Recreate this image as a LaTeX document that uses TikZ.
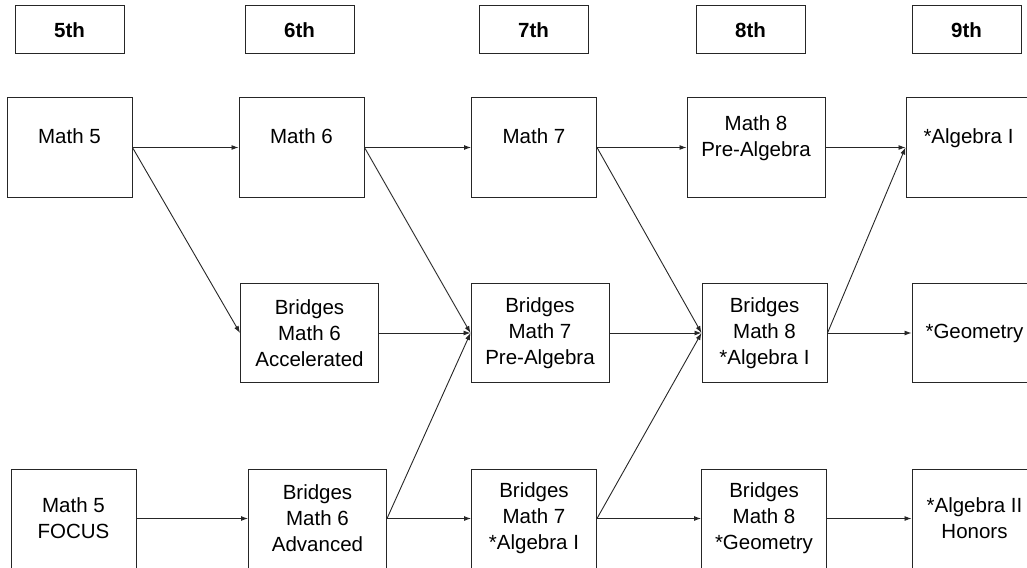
\documentclass[tikz,border=0pt]{standalone}
\usepackage{fontspec}
\setmainfont{Liberation Sans}
\usetikzlibrary{arrows.meta}

% text of the top row sits a little above the middle of its box
\newcommand{\uptext}[1]{\raisebox{9pt}[\height][\depth]{\begin{tabular}{@{}c@{}}#1\end{tabular}}}

\begin{document}
\begin{tikzpicture}[
  x=1pt, y=-1pt,
  >=Latex,
  block/.style={rectangle, draw=black!85, line width=1pt, align=center, minimum width=125pt, minimum height=99pt, inner sep=0pt, font=\fontsize{20.5}{26}\selectfont},
  wide/.style={minimum width=138pt},
  grade/.style={block, minimum width=109pt, minimum height=48pt, font=\fontsize{20.5}{26}\selectfont\bfseries},
  line/.style={draw=black!85, line width=0.9pt, -{Latex[length=7pt,width=5pt]}}
]
\useasboundingbox (0,0) rectangle (1027,567);

% grades
\node[grade] (g5) at (69.5,30) {5th};
\node[grade] (g6) at (299.5,30) {6th};
\node[grade] (g7) at (533.5,30) {7th};
\node[grade] (g8) at (750.5,30) {8th};
\node[grade] (g9) at (966.5,30) {9th};

% regular track
\node[block] (math5) at (69.5,147.5) {\uptext{Math 5}};
\node[block] (math6) at (301.5,147.5) {\uptext{Math 6}};
\node[block] (math7) at (534,147.5) {\uptext{Math 7}};
\node[block, wide] (math8) at (756,147.5) {\uptext{Math 8\\Pre-Algebra}};
\node[block] (alg1) at (968.5,147.5) {\uptext{*Algebra I}};

% accelerated track
\node[block, wide] (bm6acc) at (309.5,333) {Bridges\\Math 6\\Accelerated};
\node[block, wide] (bm7pre) at (540,333) {Bridges\\Math 7\\Pre-Algebra};
\node[block] (bm8alg) at (764.5,333) {Bridges\\Math 8\\*Algebra I};
\node[block] (geom) at (974.5,333) {*Geometry};

% focus track
\node[block] (math5f) at (73.5,518.5) {Math 5\\FOCUS};
\node[block, wide] (bm6adv) at (317.5,518.5) {Bridges\\Math 6\\Advanced};
\node[block] (bm7alg) at (534,518.5) {Bridges\\Math 7\\*Algebra I};
\node[block] (bm8geo) at (764,518.5) {Bridges\\Math 8\\*Geometry};
\node[block] (alg2h) at (974.5,518.5) {*Algebra II\\Honors};

\path[line] (math5.east) -- (math6.west);
\path[line] (math5.east) -- (bm6acc.west);
\path[line] (math6.east) -- (math7.west);
\path[line] (math6.east) -- (bm7pre.west);
\path[line] (math7.east) -- (math8.west);
\path[line] (math7.east) -- (bm8alg.west);
\path[line] (math8.east) -- (alg1.west);

\path[line] (bm6acc.east) -- (bm7pre.west);
\path[line] (bm7pre.east) -- (bm8alg.west);
\path[line] (bm8alg.east) -- (geom.west);
\path[line] (bm8alg.east) -- (alg1.west);

\path[line] (math5f.east) -- (bm6adv.west);
\path[line] (bm6adv.east) -- (bm7alg.west);
\path[line] (bm6adv.east) -- (bm7pre.west);
\path[line] (bm7alg.east) -- (bm8geo.west);
\path[line] (bm7alg.east) -- (bm8alg.west);
\path[line] (bm8geo.east) -- (alg2h.west);

\end{tikzpicture}
\end{document}
